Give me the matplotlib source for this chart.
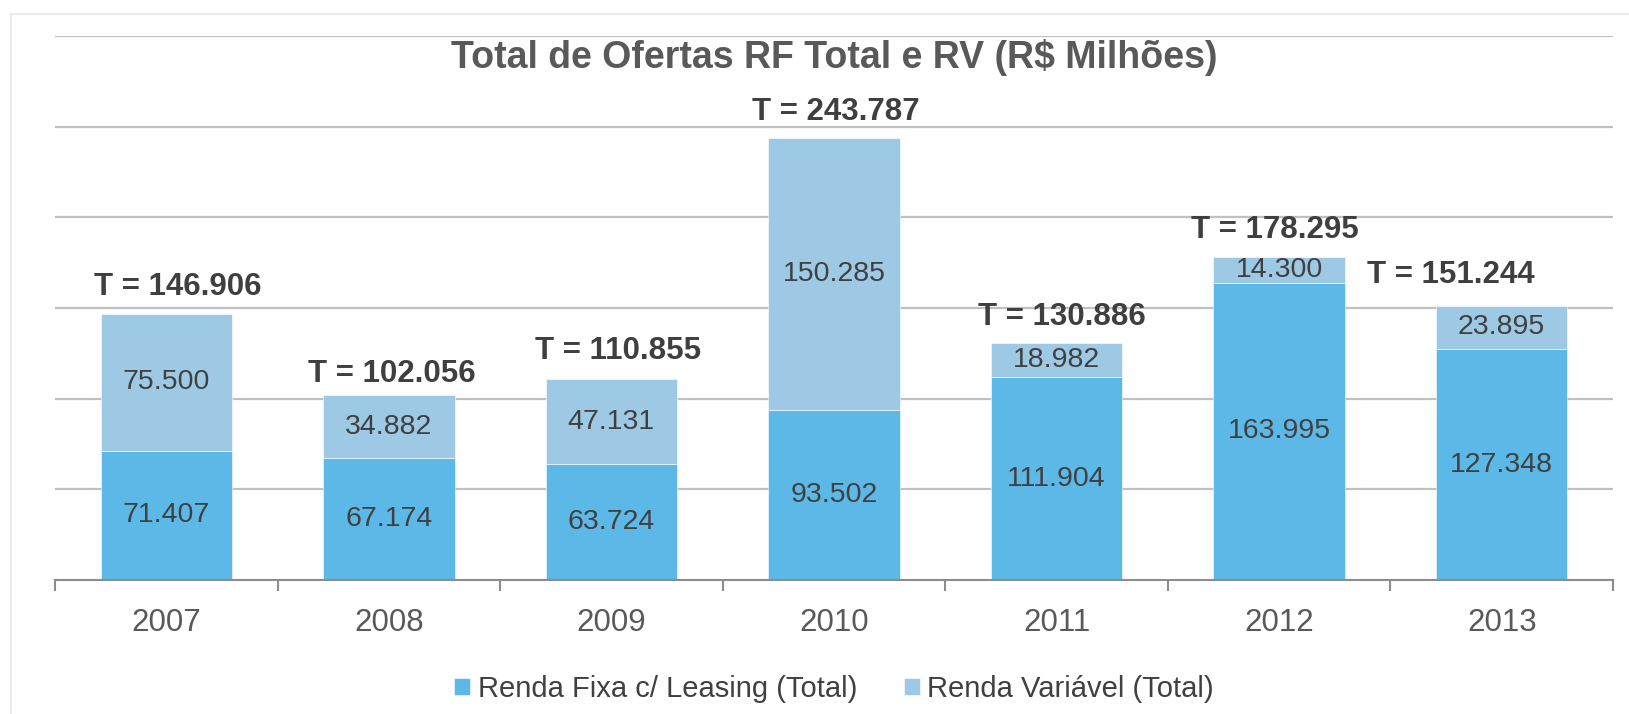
import matplotlib
matplotlib.use("Agg")
import matplotlib.pyplot as plt
from matplotlib.patches import Rectangle
import numpy as np

years = ["2007", "2008", "2009", "2010", "2011", "2012", "2013"]
renda_fixa = [71.407, 67.174, 63.724, 93.502, 111.904, 163.995, 127.348]
renda_variavel = [75.500, 34.882, 47.131, 150.285, 18.982, 14.300, 23.895]
totais = [146.906, 102.056, 110.855, 243.787, 130.886, 178.295, 151.244]
series_names = ["Renda Fixa c/ Leasing (Total)", "Renda Variável (Total)"]
title = "Total de Ofertas RF Total e RV (R$ Milhões)"

def fmt(v):
    return f"{v:.3f}"

plt.rcParams['font.family'] = ['Liberation Sans', 'DejaVu Sans']

W, H = 1629, 714
fig = plt.figure(figsize=(W/100, H/100), dpi=100)
fig.patch.set_facecolor("white")

# outer light frame
fig.add_artist(Rectangle((11/W, -0.2), 1.2, 1.2 - 14/H, transform=fig.transFigure,
                         fill=False, edgecolor="#ebebeb", linewidth=1.5))

left, right, bottom, top = 55, 1613, 580, 36
ax = fig.add_axes([left/W, 1 - bottom/H, (right-left)/W, (bottom-top)/H])

c_rf = "#5CB9E7"
c_rv = "#9EC9E4"
x = np.arange(len(years))
w = 0.59
ax.bar(x, renda_fixa, w, color=c_rf, label=series_names[0], zorder=3,
       edgecolor="white", linewidth=0.4)
ax.bar(x, renda_variavel, w, bottom=renda_fixa, color=c_rv, label=series_names[1], zorder=3,
       edgecolor="white", linewidth=0.4)

ax.set_xlim(-0.5, len(years) - 0.5)
ax.set_ylim(0, 300)
ax.set_yticks(np.arange(50, 301, 50))
ax.yaxis.grid(True, color="#c0c0c0", linewidth=1.6, zorder=0)
ax.tick_params(axis="y", length=0, labelleft=False)
for s in ["left", "right", "top"]:
    ax.spines[s].set_visible(False)
ax.spines["bottom"].set_color("#8c8c8c")
ax.spines["bottom"].set_linewidth(1.5)
ax.spines["bottom"].set_zorder(4)

ax.set_xticks(x)
ax.set_xticklabels(years, fontsize=22.5, color="#595959")
ax.tick_params(axis="x", which="major", length=0, pad=20)
ax.set_xticks(np.arange(-0.5, len(years), 1.0), minor=True)
ax.tick_params(axis="x", which="minor", length=8, width=1.5, color="#8c8c8c", direction="out")

label_color = "#404040"
for i in range(len(years)):
    ax.text(x[i], renda_fixa[i] / 2, fmt(renda_fixa[i]), ha="center", va="center",
            fontsize=20.5, color=label_color, zorder=5)
    ax.text(x[i], renda_fixa[i] + renda_variavel[i] / 2, fmt(renda_variavel[i]),
            ha="center", va="center", fontsize=20.5, color=label_color, zorder=5)

# total label offsets (pixels) - layout only
t_dx = [11, 3, 7, 2, 5, -4, -51]
t_dy = [27, 21, 28, 26, 26, 27, 31]
for i in range(len(years)):
    ax.annotate(f"T = {fmt(totais[i])}", xy=(x[i], renda_fixa[i] + renda_variavel[i]),
                xytext=(t_dx[i], t_dy[i]), textcoords="offset pixels",
                ha="center", va="center", fontsize=22.5, fontweight="bold",
                color="#3f3f3f", zorder=6, annotation_clip=False)

fig.text((left + right) / 2 / W, 1 - 57 / H, title, ha="center", va="center",
         fontsize=27, fontweight="bold", color="#595959")

leg = fig.legend(loc="center", bbox_to_anchor=(834/W, 1 - 689/H), ncol=2, frameon=False,
                 fontsize=21, handlelength=0.55, handleheight=0.55, handletextpad=0.25,
                 columnspacing=1.6, labelcolor="#404040")

fig.savefig("out.png", dpi=100, facecolor="white")
